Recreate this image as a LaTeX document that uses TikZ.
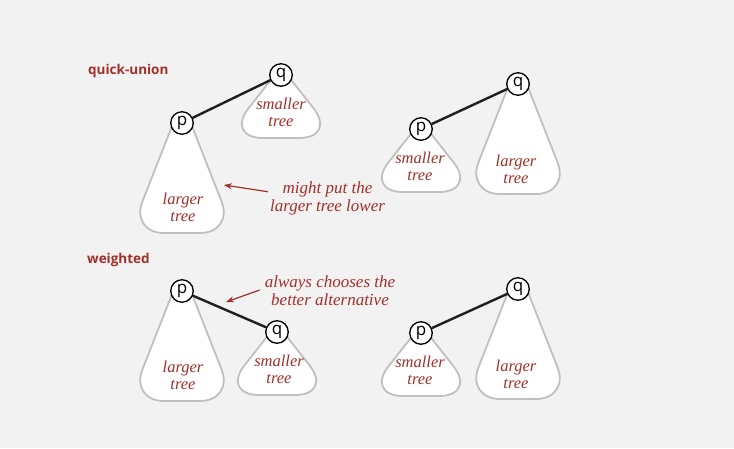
\documentclass[tikz,border=0pt]{standalone}
\usepackage{fontspec}
\setmainfont{Liberation Serif}
\setsansfont{Open Sans}
\usetikzlibrary{arrows.meta}
\definecolor{bg}{RGB}{242,242,242}
\definecolor{labred}{RGB}{163,48,40}
\definecolor{treegray}{RGB}{192,192,192}
\tikzset{
  treeline/.style={draw=treegray, fill=white, line width=1.8pt},
  vertex/.style={circle, draw=black, fill=white, line width=1.35pt, minimum size=22.5pt, inner sep=0pt, font=\sffamily\fontsize{17}{17}\selectfont},
  link/.style={line width=2.4pt, draw=black!88},
  treetext/.style={anchor=north, align=center, inner sep=0pt, text=labred, font=\itshape\fontsize{16.5}{17}\selectfont},
  note/.style={anchor=north, align=center, inner sep=0pt, text=labred, font=\itshape\fontsize{17}{18.5}\selectfont},
  notearrow/.style={draw=labred, line width=1.2pt, -{Stealth[length=8pt,width=6pt]}},
  heading/.style={anchor=base west, inner sep=0pt, text=labred, font=\sffamily\bfseries\fontsize{13.5}{14}\selectfont},
}
% larger tree hanging from a root at (#1,#2)
\newcommand\largertree[2]{\filldraw[treeline, rounded corners=34pt] (#1-10.3,#2+4) -- (#1-52,#2+110) -- (#1+52,#2+110) -- (#1+10.3,#2+4);}
% smaller tree hanging from a root at (#1,#2)
\newcommand\smallertree[2]{\filldraw[treeline, rounded corners=38pt] (#1-9.4,#2+4) -- (#1-56,#2+63) -- (#1+56,#2+63) -- (#1+9.4,#2+4);}
\begin{document}
\begin{tikzpicture}[x=1pt,y=-1pt]
\fill[bg] (0,0) rectangle (734,448);
\useasboundingbox (0,0) rectangle (734,448);

% headings
\node[heading] (hqu) at (88,74) {quick-union};
\node[heading] (hw) at (87,263) {weighted};

% trees
\largertree{182}{123}
\smallertree{281}{75}
\smallertree{421}{129}
\largertree{518}{84}
\largertree{182}{291}
\smallertree{277}{332}
\smallertree{421}{333}
\largertree{518}{289}

% tree texts
\node[treetext] (t1) at (183,123+69) {\strut larger\\tree};
\node[treetext] (t2) at (281,75+22) {\strut smaller\\tree};
\node[treetext] (t3) at (420,129+22) {\strut smaller\\tree};
\node[treetext] (t4) at (516,84+70) {\strut larger\\tree};
\node[treetext] (t5) at (183,291+69) {\strut larger\\tree};
\node[treetext] (t6) at (279,332+22) {\strut smaller\\tree};
\node[treetext] (t7) at (420,333+22) {\strut smaller\\tree};
\node[treetext] (t8) at (516,289+70) {\strut larger\\tree};

% roots
\node[vertex] (p1) at (182,123) {p};
\node[vertex] (q1) at (281,75) {q};
\node[vertex] (p2) at (421,129) {p};
\node[vertex] (q2) at (518,84) {q};
\node[vertex] (p3) at (182,291) {p};
\node[vertex] (q3) at (277,332) {q};
\node[vertex] (p4) at (421,333) {p};
\node[vertex] (q4) at (518,289) {q};

% links
\draw[link] (p1) -- (q1);
\draw[link] (p2) -- (q2);
\draw[link] (p3) -- (q3);
\draw[link] (p4) -- (q4);

% annotations
\node[note] (n1) at (327.5,180) {\strut might put the\\larger tree lower};
\node[note] (n2) at (330,274) {\strut always chooses the\\better alternative};
\coordinate (n1tip) at (224,185);
\coordinate (n2tip) at (226,302);
\draw[notearrow] ([shift={(-2pt,6pt)}]n1.west) -- (n1tip);
\draw[notearrow] ([shift={(-5pt,0pt)}]n2.west) -- (n2tip);
\end{tikzpicture}
\end{document}
